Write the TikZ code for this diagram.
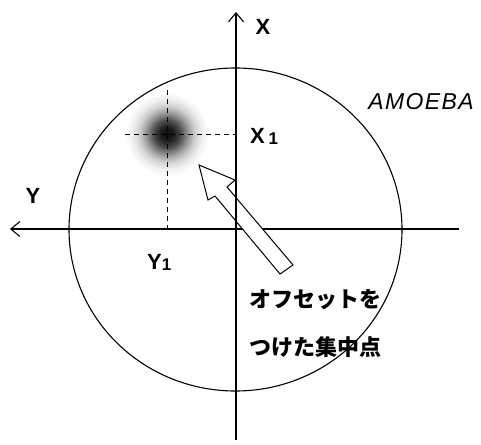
\documentclass[tikz,border=0pt]{standalone}
\usepackage{fontspec}
\setmainfont{Liberation Sans}
\newfontfamily\jpfont{Noto Sans CJK JP}
\usetikzlibrary{arrows.meta, positioning}
\pgfdeclareradialshading{spotshade}{\pgfpoint{0bp}{0bp}}{%
  color(0bp)=(black!95); color(4bp)=(black!88); color(8bp)=(black!68);
  color(12bp)=(black!40); color(16bp)=(black!18); color(20bp)=(black!6); color(24bp)=(white); color(50bp)=(white)}

\begin{document}
\begin{tikzpicture}[
  x=1pt, y=-1pt,
  axis/.style={line width=1.2pt, -{Straight Barb[length=9pt, width=15pt, line width=1.1pt]}},
  guide/.style={line width=0.9pt, dash pattern=on 5pt off 4pt},
  lab/.style={font=\fontsize{22}{24}\selectfont\bfseries, inner sep=0pt},
  note/.style={font=\fontsize{22}{48}\selectfont\jpfont\bfseries, align=left, inner sep=0pt}
]
\useasboundingbox (0,0) rectangle (481,444);

% Centre of the field
\coordinate (o) at (236,229);
\coordinate (xtop) at (236,12);
\coordinate (xbot) at (236,440);
\coordinate (yleft) at (10,229);
\coordinate (yright) at (459,229);
\coordinate (spot) at (167,134);

% Offset focal spot
\shade[shading=spotshade] (spot) circle (44);

% Horizontal axis (lies under the arrow)
\draw[axis] (yright) -- (yleft);

% Guide lines to the spot
\draw[guide] (spot |- 0,90) -- (spot |- o);
\draw[guide] (125,134) -- (spot -| o);

% Amoeba outline
\draw[line width=1.1pt] (235.5,229.5) ellipse [x radius=166.5, y radius=161.5];

% Hollow pointer
\draw[line width=1pt, fill=white, line join=miter]
  (199,165) -- (235,180) -- (227,187) -- (293,265) -- (280,274) -- (215,196) -- (208,200) -- cycle;

% Vertical axis (lies over the arrow)
\draw[axis] (xbot) -- (xtop);

% Labels
\node[lab] (xlabel) at (263,27) {X};
\node[lab] (ylabel) at (33,196) {Y};
\node[lab, anchor=west] (xone) at (250,136) {X\,\raisebox{-1pt}{\fontsize{17}{18}\selectfont 1}};
\node[lab, anchor=west] (yone) at (147,262) {Y\raisebox{-1pt}{\fontsize{17}{18}\selectfont 1}};
\node[font=\fontsize{23}{26}\selectfont\itshape\addfontfeatures{LetterSpace=6}, inner sep=0pt] (amoeba) at (421,102) {AMOEBA};

\node[note, anchor=north west] (note) at (249,289) {オフセットを\\つけた集中点};

\end{tikzpicture}
\end{document}
